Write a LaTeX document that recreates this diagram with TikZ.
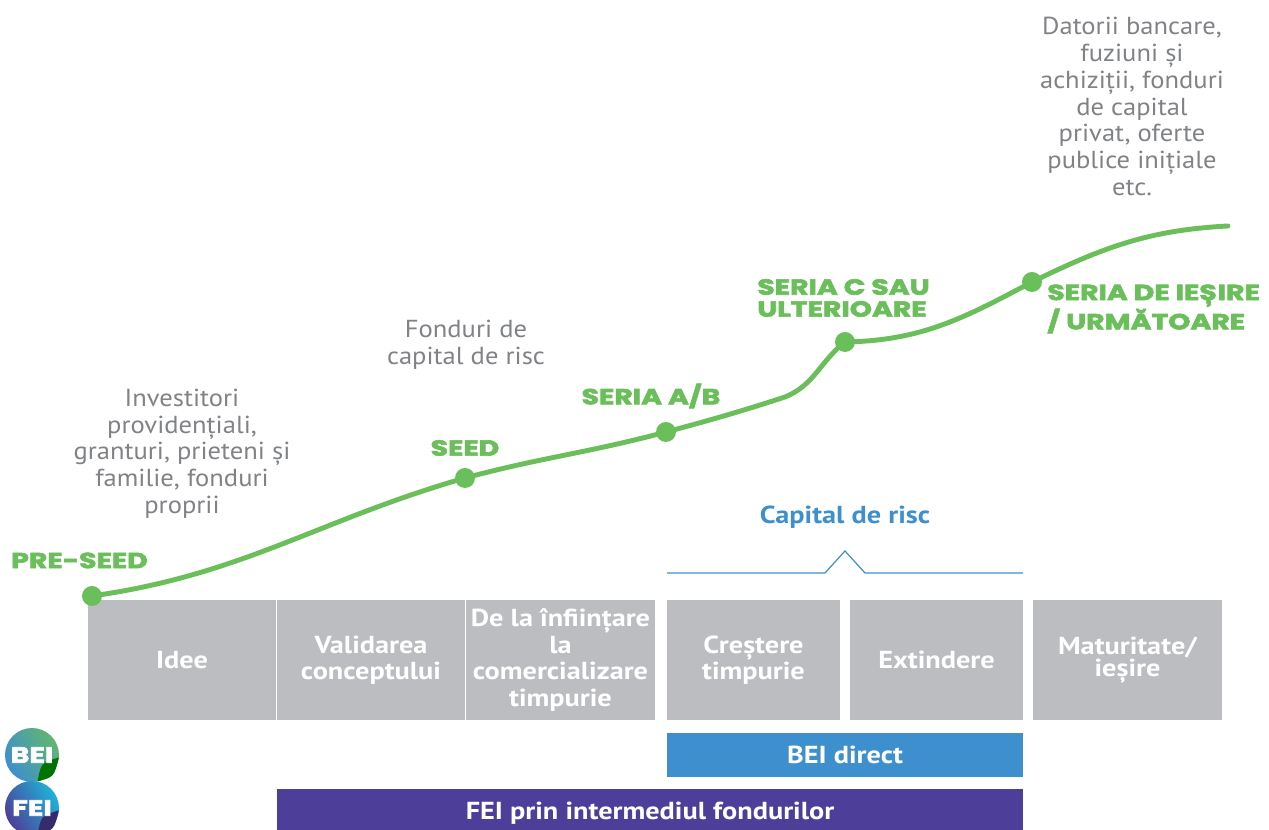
\documentclass[tikz,border=0pt]{standalone}
\usepackage{fontspec}
\setmainfont{PT Sans}[FakeStretch=1.08]
\newfontfamily\boxfont{PT Sans}[FakeStretch=1.15]
\newfontfamily\stagefont{Poppins}[FakeStretch=1.3, FakeBold=3]
\usetikzlibrary{positioning,calc}
\definecolor{growthgreen}{HTML}{6ABF5A}
\definecolor{fundgray}{HTML}{808285}
\definecolor{stagegray}{HTML}{BCBDC0}
\definecolor{beiblue}{HTML}{3D8FCE}
\definecolor{feipurple}{HTML}{4D3F99}
\tikzset{
    stagebox/.style={inner sep=0pt, fill=stagegray, minimum height=2.4cm, text=white, align=center, font=\boxfont\bfseries\fontsize{14}{15}\selectfont},
    seriesdot/.style={inner sep=0pt, circle, fill=growthgreen, minimum size=0.4cm},
    serieslabel/.style={inner sep=0pt, text=growthgreen, align=left, font=\stagefont\bfseries\fontsize{12.4}{12.5}\selectfont},
    fundtext/.style={inner sep=0pt, text=fundgray, align=center, font=\fontsize{14}{15.2}\selectfont},
    growth/.style={draw=growthgreen, line width=2.8pt, line cap=round},
    fundbar/.style={inner sep=0pt, text=white, font=\boxfont\bfseries\fontsize{14}{15}\selectfont},
    logo/.style={inner sep=0pt, text=white, font=\stagefont\bfseries\fontsize{12.5}{12.5}\selectfont}
}

\begin{document}
\begin{tikzpicture}[x=0.02cm, y=0.02cm]
\useasboundingbox (0, 0) rectangle (1269, 830);
\node[stagebox, minimum width=3.76cm] (idee) at (182, 170) {Idee};
\node[stagebox, minimum width=3.76cm] (validare) at (371, 170) {Validarea\\conceptului};
\node[stagebox, minimum width=3.78cm] (infiintare) at (560.5, 170) {De la înființare\\la\\comercializare\\timpurie};
\node[stagebox, minimum width=3.46cm, font=\boxfont\bfseries\fontsize{14}{12.6}\selectfont] (crestere) at (753.5, 170) {Creștere\\timpurie};
\node[stagebox, minimum width=3.46cm] (extindere) at (936.5, 170) {Extindere};
\node[stagebox, minimum width=3.78cm, font=\boxfont\bfseries\fontsize{14}{12.8}\selectfont] (maturitate) at (1127.5, 170) {Maturitate/\\ieșire};

\node[fundbar, fill=beiblue, minimum width=7.12cm, minimum height=0.88cm] (beidirect) at (845, 75) {BEI direct};
\node[fundbar, fill=feipurple, minimum width=14.92cm, minimum height=0.96cm] (feifonduri) at (650, 17) {FEI prin intermediul fondurilor};

\coordinate (brl) at (667, 257);
\coordinate (brml) at (825, 257);
\coordinate (brtop) at (845, 279);
\coordinate (brmr) at (865, 257);
\coordinate (brr) at (1023, 257);
\draw[beiblue, line width=0.7pt] (brl) -- (brml) -- (brtop) -- (brmr) -- (brr);
\node[inner sep=0pt, text=beiblue, font=\boxfont\bfseries\fontsize{14}{15}\selectfont] (capitalrisc) at (845, 313) {Capital de risc};

\node[seriesdot] (preseed) at (92, 234) {};
\node[seriesdot] (seed) at (465, 352) {};
\node[seriesdot] (seriaab) at (666, 398) {};
\node[seriesdot] (seriac) at (845, 488) {};
\node[seriesdot] (seriaiesire) at (1032, 548) {};
\coordinate (bend) at (785, 433);
\coordinate (exitend) at (1228, 604);
\draw[growth] (preseed.center) to[out=8, in=196] (seed.center) to[out=15, in=195] (seriaab.center)
    to[out=15, in=198] (bend) to[out=22, in=218] (seriac.center)
    to[out=1, in=208] (seriaiesire.center) to[out=26, in=183] (exitend);

\node[serieslabel] (preseedtext) at (79.5, 269.5) {PRE-SEED};
\node[serieslabel] (seedtext) at (465, 382) {SEED};
\node[serieslabel] (seriaabtext) at (651, 434) {SERIA A/B};
\node[serieslabel, anchor=west] (seriactext) at (757, 532) {SERIA C SAU\\ULTERIOARE};
\node[serieslabel, anchor=west] (seriaiesiretext) at (1047, 521) {SERIA DE IEȘIRE\\/ URMĂTOARE};

\node[fundtext] (providentiali) at (182, 376.5) {Investitori\\providențiali,\\granturi, prieteni și\\familie, fonduri\\proprii};
\node[fundtext] (fonduririsc) at (466, 485) {Fonduri de\\capital de risc};
\node[fundtext] (datorii) at (1132, 723.5) {Datorii bancare,\\fuziuni și\\achiziții, fonduri\\de capital\\privat, oferte\\publice inițiale\\etc.};

\node[circle, minimum size=1.08cm, inner sep=0pt, left color=beiblue, right color=growthgreen!80!beiblue, shading angle=120] (beilogo) at (32, 75) {};
\fill[green!45!black] ($(beilogo.center)+(-5:27)$) .. controls ($(beilogo.center)+(9,-8)$) .. ($(beilogo.center)+(-78:27)$)
    .. controls ($(beilogo.center)+(22,-22)$) .. ($(beilogo.center)+(-5:27)$);
\node[logo] (beiname) at (beilogo.center) {BEI};
\node[circle, minimum size=1.08cm, inner sep=0pt, left color=feipurple, right color=cyan!60!feipurple, shading angle=120] (feilogo) at (32, 22) {};
\fill[feipurple!70!black] ($(feilogo.center)+(-5:27)$) .. controls ($(feilogo.center)+(9,-8)$) .. ($(feilogo.center)+(-78:27)$)
    .. controls ($(feilogo.center)+(22,-22)$) .. ($(feilogo.center)+(-5:27)$);
\node[logo] (feiname) at (feilogo.center) {FEI};
\end{tikzpicture}
\end{document}
